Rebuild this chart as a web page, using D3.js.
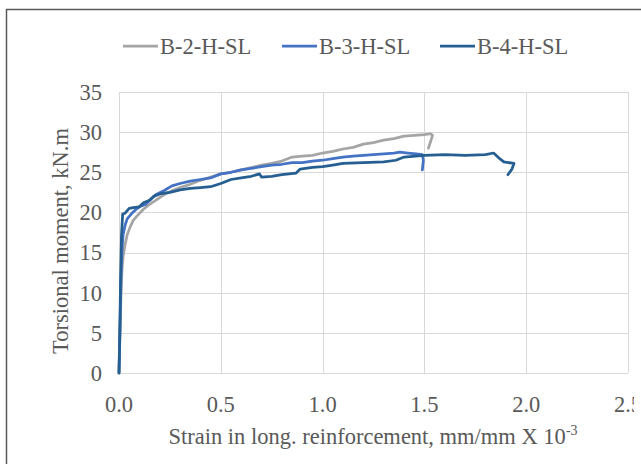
<!DOCTYPE html>
<html>
<head>
<meta charset="utf-8">
<script src="https://cdn.jsdelivr.net/npm/d3@7"></script>
<style>
  html, body { margin: 0; padding: 0; background: #fff; }
  svg { display: block; }
  text { font-family: "Liberation Serif", "Times New Roman", serif; fill: #595959; }
</style>
</head>
<body>
<svg id="chart" width="641" height="464"></svg>
<script>
// Series names and colours
const seriesNames = ["B-2-H-SL", "B-3-H-SL", "B-4-H-SL"];
const seriesColors = ["#A5A5A5", "#4472C4", "#255E91"];

// Strain (mm/mm x 10^-3) and torsional moment (kN.m) for each beam
const b2Strain = [0, 0.005, 0.01, 0.015, 0.02, 0.03, 0.04, 0.055, 0.07, 0.09, 0.12, 0.15, 0.18, 0.22, 0.26, 0.3, 0.35, 0.4, 0.45, 0.5, 0.55, 0.6, 0.65, 0.7, 0.75, 0.8, 0.85, 0.9, 0.95, 1.0, 1.05, 1.1, 1.15, 1.2, 1.25, 1.3, 1.35, 1.4, 1.45, 1.5, 1.53, 1.54, 1.53, 1.52];
const b2Moment = [0, 5, 10, 13, 14.5, 16, 17.2, 18.2, 19, 19.6, 20.4, 21, 21.5, 22.2, 22.7, 23.1, 23.5, 24.0, 24.4, 24.8, 25.0, 25.3, 25.6, 25.9, 26.1, 26.4, 26.9, 27.0, 27.1, 27.4, 27.6, 27.9, 28.1, 28.5, 28.7, 29.0, 29.2, 29.5, 29.6, 29.7, 29.8, 29.6, 28.8, 28.0];

const b3Strain = [0, 0.005, 0.01, 0.015, 0.02, 0.03, 0.04, 0.06, 0.08, 0.1, 0.13, 0.15, 0.18, 0.22, 0.26, 0.3, 0.35, 0.4, 0.45, 0.5, 0.55, 0.6, 0.65, 0.7, 0.75, 0.8, 0.85, 0.9, 0.95, 1.0, 1.05, 1.1, 1.15, 1.2, 1.25, 1.3, 1.35, 1.38, 1.42, 1.46, 1.49, 1.495, 1.49];
const b3Moment = [0, 6, 12, 15.5, 17.2, 18.4, 19.2, 19.8, 20.3, 20.7, 21.0, 21.5, 22.2, 22.7, 23.3, 23.6, 23.9, 24.1, 24.3, 24.8, 25.0, 25.3, 25.5, 25.7, 25.9, 26.0, 26.2, 26.2, 26.4, 26.5, 26.7, 26.9, 27.0, 27.1, 27.2, 27.3, 27.4, 27.5, 27.4, 27.3, 27.2, 26.5, 25.3];

const b4Strain = [0, 0.004, 0.008, 0.012, 0.018, 0.03, 0.05, 0.07, 0.1, 0.12, 0.15, 0.17, 0.2, 0.25, 0.3, 0.35, 0.4, 0.45, 0.5, 0.55, 0.6, 0.65, 0.69, 0.7, 0.75, 0.8, 0.87, 0.89, 0.95, 1.0, 1.05, 1.1, 1.2, 1.3, 1.36, 1.4, 1.5, 1.6, 1.7, 1.8, 1.84, 1.87, 1.89, 1.94, 1.93, 1.91];
const b4Moment = [0, 5, 12, 17, 19.8, 19.9, 20.5, 20.6, 20.7, 21.2, 21.5, 22.0, 22.3, 22.5, 22.8, 23.0, 23.1, 23.2, 23.6, 24.1, 24.3, 24.5, 24.8, 24.4, 24.5, 24.7, 24.9, 25.4, 25.6, 25.7, 25.9, 26.1, 26.2, 26.3, 26.5, 26.9, 27.1, 27.2, 27.1, 27.2, 27.4, 26.7, 26.3, 26.1, 25.4, 24.7];

// Axis ticks
const xTicks = [0, 0.5, 1.0, 1.5, 2.0, 2.5];
const yTicks = [0, 5, 10, 15, 20, 25, 30, 35];

const strains = [b2Strain, b3Strain, b4Strain];
const moments = [b2Moment, b3Moment, b4Moment];
const series = seriesNames.map((name, i) => ({
  name,
  color: seriesColors[i],
  points: strains[i].map((s, j) => [s, moments[i][j]])
}));

const fontSize = 22.5;
const svg = d3.select("#chart");

// The chart area ends a few pixels short of the window's right edge
svg.append("defs").append("clipPath").attr("id", "chart-area")
  .append("rect").attr("x", 0).attr("y", 0).attr("width", 634).attr("height", 464);

// Outer frame
svg.append("path")
  .attr("d", "M6.5,464 L6.5,9.5 L641,9.5")
  .attr("fill", "none")
  .attr("stroke", "#5a5a5a")
  .attr("stroke-width", 1.5);

const plot = { left: 119, right: 628, top: 92, bottom: 373 };

const x = d3.scaleLinear().domain([0, 2.5]).range([plot.left, plot.right]);
const y = d3.scaleLinear().domain([0, 35]).range([plot.bottom, plot.top]);

// Gridlines
const grid = svg.append("g").attr("stroke", "#d9d9d9").attr("stroke-width", 1);
grid.selectAll("line.h").data(yTicks).join("line")
  .attr("x1", plot.left).attr("x2", plot.right)
  .attr("y1", d => Math.round(y(d)) + 0.5).attr("y2", d => Math.round(y(d)) + 0.5);
grid.selectAll("line.v").data(xTicks).join("line")
  .attr("y1", plot.top).attr("y2", plot.bottom)
  .attr("x1", d => Math.round(x(d)) + 0.5).attr("x2", d => Math.round(x(d)) + 0.5);

// Tick labels
svg.append("g").selectAll("text").data(yTicks).join("text")
  .attr("x", plot.left - 17)
  .attr("y", d => y(d))
  .attr("dy", "0.35em")
  .attr("text-anchor", "end")
  .attr("font-size", fontSize)
  .text(d => d);

svg.append("g").attr("clip-path", "url(#chart-area)")
  .selectAll("text").data(xTicks).join("text")
  .attr("x", d => x(d))
  .attr("y", 412)
  .attr("text-anchor", "middle")
  .attr("font-size", fontSize)
  .text(d => d3.format(".1f")(d));

// Axis titles
const xTitle = svg.append("text")
  .attr("x", 373)
  .attr("y", 444)
  .attr("text-anchor", "middle")
  .attr("font-size", fontSize);
xTitle.append("tspan").text("Strain in long. reinforcement, mm/mm X 10");
xTitle.append("tspan").attr("font-size", 14).attr("dy", -9).text("-3");

svg.append("text")
  .attr("transform", "translate(68,241) rotate(-90)")
  .attr("text-anchor", "middle")
  .attr("font-size", fontSize)
  .text("Torsional moment, kN.m");

// Curves
const line = d3.line().x(d => x(d[0])).y(d => y(d[1]));
svg.append("g").selectAll("path").data(series).join("path")
  .attr("d", d => line(d.points))
  .attr("fill", "none")
  .attr("stroke", d => d.color)
  .attr("stroke-width", 2.75)
  .attr("stroke-linejoin", "round")
  .attr("stroke-linecap", "round");

// Legend
const legendX = [123, 282, 440];
const legend = svg.append("g").selectAll("g").data(series).join("g")
  .attr("transform", (d, i) => `translate(${legendX[i]},46)`);
legend.append("line")
  .attr("x1", 0).attr("x2", 35)
  .attr("stroke", d => d.color)
  .attr("stroke-width", 2.75);
legend.append("text")
  .attr("x", 37)
  .attr("dy", "0.35em")
  .attr("font-size", fontSize)
  .text(d => d.name);
</script>
</body>
</html>
